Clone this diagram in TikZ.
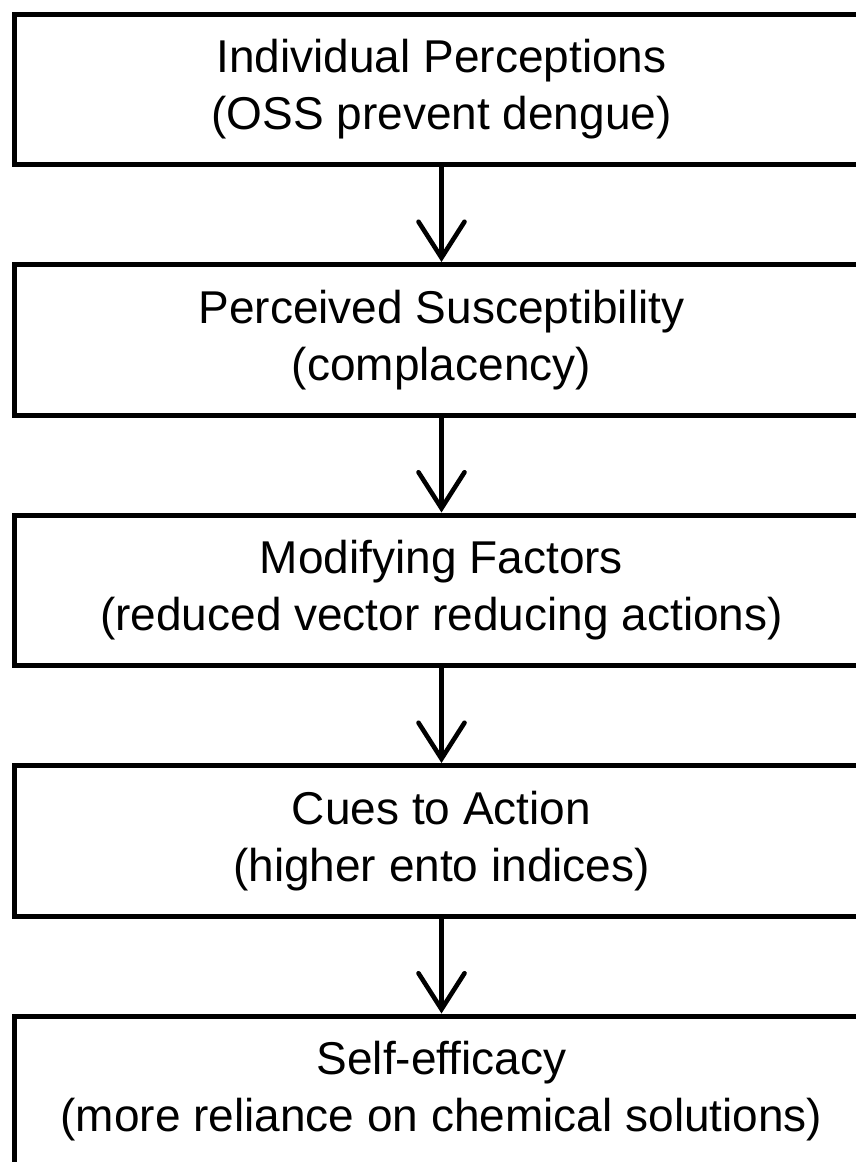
\documentclass[tikz,border=0pt]{standalone}
\usepackage{fontspec}
\setmainfont{Liberation Sans}
\usetikzlibrary{arrows.meta}
\begin{document}
\begin{tikzpicture}[x=1pt,y=1pt,
  stagebox/.style={draw=black, line width=5pt, rectangle, minimum width=855pt, minimum height=150.5pt, inner sep=0pt, align=center, font=\fontsize{46}{57}\selectfont, text=black},
  flowarrow/.style={line width=4.6pt, -{Straight Barb[length=36pt, width=46pt, line cap=round]}}]
\useasboundingbox (0,0) rectangle (855,-1162);
\node[stagebox] (b1) at (441.5,-89.25) {Individual Perceptions\\(OSS prevent dengue)};
\node[stagebox] (b2) at (441.5,-339.75) {Perceived Susceptibility\\(complacency)};
\node[stagebox] (b3) at (441.5,-590.25) {Modifying Factors\\(reduced vector reducing actions)};
\node[stagebox] (b4) at (441.5,-840.75) {Cues to Action\\(higher ento indices)};
\node[stagebox] (b5) at (441.5,-1091.25) {Self-efficacy\\(more reliance on chemical solutions)};
\draw[flowarrow] (b1.south) -- (b2.north);
\draw[flowarrow] (b2.south) -- (b3.north);
\draw[flowarrow] (b3.south) -- (b4.north);
\draw[flowarrow] (b4.south) -- (b5.north);
\end{tikzpicture}
\end{document}
